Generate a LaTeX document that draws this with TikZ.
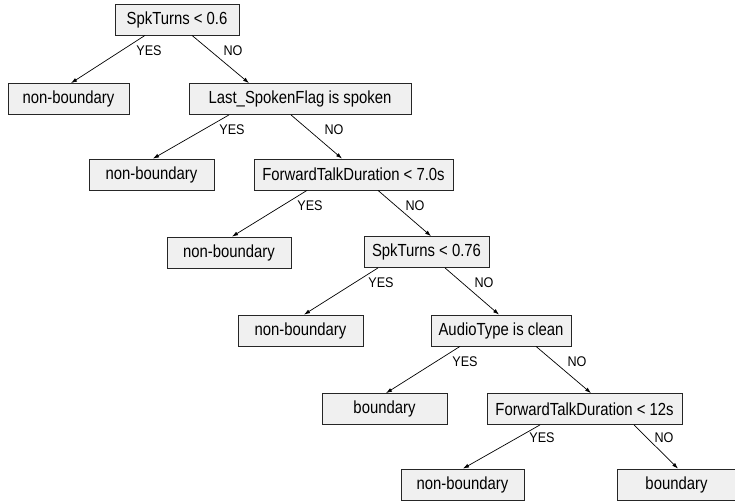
\documentclass[tikz,border=0pt]{standalone}
\usepackage{fontspec}
\setmainfont{Liberation Sans}
\usetikzlibrary{arrows.meta}
% condensed text used inside the boxes and on the branches
\newcommand{\boxtext}[1]{\scalebox{0.85}[1]{\fontsize{17.5}{20}\selectfont #1}}
\newcommand{\brtext}[1]{\scalebox{0.9}[1]{\fontsize{14}{16}\selectfont #1}}
\tikzset{
  box/.style={draw=black!85, fill=black!6, line width=0.8pt, minimum height=31pt,
              inner sep=0pt},
  edge/.style={draw=black, line width=0.7pt, -{Latex[length=6pt,width=4pt]}},
  lbl/.style={inner sep=0pt}
}
\begin{document}
\begin{tikzpicture}[x=1pt, y=-1pt]
\useasboundingbox (0,0) rectangle (735,501);

% decision nodes and leaves
\node[box, minimum width=124pt] (r)  at (177,19.5)   {\boxtext{SpkTurns < 0.6}};
\node[box, minimum width=121pt] (l1) at (68.5,99)    {\boxtext{non-boundary}};
\node[box, minimum width=222pt] (n1) at (300,99)     {\boxtext{Last\_SpokenFlag is spoken}};
\node[box, minimum width=125pt] (l2) at (151.5,174.5) {\boxtext{non-boundary}};
\node[box, minimum width=199pt] (n2) at (353.5,174.5) {\boxtext{ForwardTalkDuration < 7.0s}};
\node[box, minimum width=124pt] (l3) at (229,252.5)  {\boxtext{non-boundary}};
\node[box, minimum width=125pt] (n3) at (426.5,252)  {\boxtext{SpkTurns < 0.76}};
\node[box, minimum width=125pt] (l4) at (300.5,330.5) {\boxtext{non-boundary}};
\node[box, minimum width=140pt] (n4) at (501,330.5)  {\boxtext{AudioType is clean}};
\node[box, minimum width=125pt] (l5) at (384.5,409)  {\boxtext{boundary}};
\node[box, minimum width=195pt] (n5) at (584.5,409)  {\boxtext{ForwardTalkDuration < 12s}};
\node[box, minimum width=123pt] (l6) at (462.5,484.5) {\boxtext{non-boundary}};
\node[box, minimum width=118pt] (l7) at (676.5,484.5) {\boxtext{boundary}};

% branches
\draw[edge] ([xshift=-32pt]r.south)   -- ([xshift=2.5pt]l1.north);
\draw[edge] ([xshift=15pt]r.south)    -- ([xshift=-51pt]n1.north);
\draw[edge] ([xshift=-71pt]n1.south)  -- ([xshift=1.5pt]l2.north);
\draw[edge] ([xshift=-9pt]n1.south)   -- ([xshift=-11.5pt]n2.north);
\draw[edge] ([xshift=-46.5pt]n2.south) -- ([xshift=3pt]l3.north);
\draw[edge] ([xshift=24.5pt]n2.south) -- ([xshift=4.5pt]n3.north);
\draw[edge] ([xshift=-48.5pt]n3.south) -- ([xshift=3.5pt]l4.north);
\draw[edge] ([xshift=18.5pt]n3.south) -- ([xshift=-2pt]n4.north);
\draw[edge] ([xshift=-41pt]n4.south)  -- ([xshift=1.5pt]l5.north);
\draw[edge] ([xshift=35pt]n4.south)   -- ([xshift=6.5pt]n5.north);
\draw[edge] ([xshift=-44.5pt]n5.south) -- ([xshift=0.5pt]l6.north);
\draw[edge] ([xshift=49.5pt]n5.south) -- ([xshift=1.5pt]l7.north);

% branch labels
\node[lbl] (y1) at (149,51)  {\brtext{YES}};
\node[lbl] (o1) at (233,51)  {\brtext{NO}};
\node[lbl] (y2) at (232,130) {\brtext{YES}};
\node[lbl] (o2) at (334,130) {\brtext{NO}};
\node[lbl] (y3) at (310,206) {\brtext{YES}};
\node[lbl] (o3) at (415,206) {\brtext{NO}};
\node[lbl] (y4) at (381,283) {\brtext{YES}};
\node[lbl] (o4) at (484,283) {\brtext{NO}};
\node[lbl] (y5) at (465,362) {\brtext{YES}};
\node[lbl] (o5) at (577,362) {\brtext{NO}};
\node[lbl] (y6) at (542,438) {\brtext{YES}};
\node[lbl] (o6) at (664,438) {\brtext{NO}};
\end{tikzpicture}
\end{document}
